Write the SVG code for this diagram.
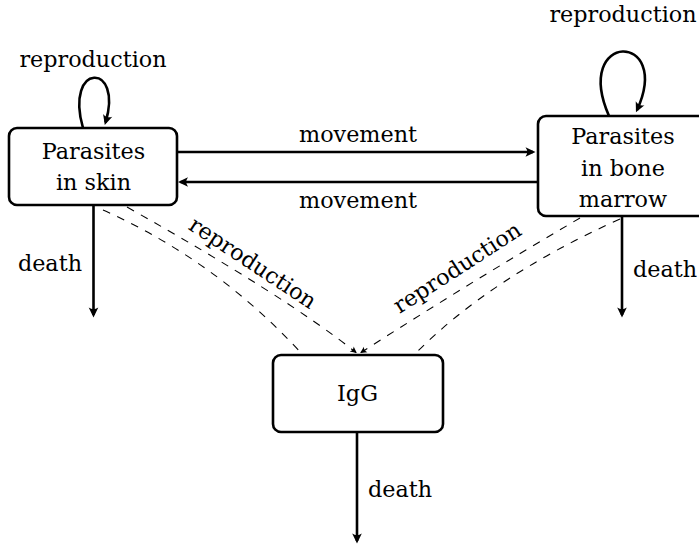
<svg xmlns="http://www.w3.org/2000/svg" width="699" height="549" viewBox="0 0 699 549">
<style>
text{font-family:'DejaVu Serif','Liberation Serif',serif;font-size:22.3px;fill:#000}
.box{fill:#fff;stroke:#000;stroke-width:2.6}
.solid{fill:none;stroke:#000;stroke-width:2.6}
.dash{fill:none;stroke:#000;stroke-width:1.05;stroke-dasharray:7.8 7.8}
.m{text-anchor:middle}
</style>
<defs>
<marker id="ah" markerUnits="userSpaceOnUse" viewBox="-10 -7 14 14" refX="0" refY="0" markerWidth="14" markerHeight="14" orient="auto" overflow="visible">
<path d="M2.5,0 L-7.5,-4.8 Q-4,0 -7.5,4.8 Z" fill="#000"/>
</marker>
<marker id="ahs" markerUnits="userSpaceOnUse" viewBox="-8 -5 10 10" refX="0" refY="0" markerWidth="10" markerHeight="10" orient="auto" overflow="visible">
<path d="M1,0 L-5.5,-3.2 Q-3.2,0 -5.5,3.2 Z" fill="#000"/>
</marker>
</defs>
<rect width="699" height="549" fill="#fff"/>
<g id="connectors">
<path class="solid" d="M83,128 C64,62 124,62 105.5,122.5" marker-end="url(#ah)"/>
<path class="solid" d="M609,116 C572,31 673,31 637,110" marker-end="url(#ah)"/>
<path class="solid" d="M177,152 L533,152" marker-end="url(#ah)"/>
<path class="solid" d="M538,182 L180.5,182" marker-end="url(#ah)"/>
<path class="solid" d="M93.5,205 L93.5,315" marker-end="url(#ah)"/>
<path class="solid" d="M622,216 L622,315" marker-end="url(#ah)"/>
<path class="solid" d="M357,432 L357,541" marker-end="url(#ah)"/>
<path class="dash" d="M127,207 Q285,296 356,352.5" marker-end="url(#ahs)"/>
<path class="dash" d="M103,210 Q217,261 302,354"/>
<path class="dash" d="M580,218 Q474,280 361,352.5" marker-end="url(#ahs)"/>
<path class="dash" d="M620,219 Q491,277 415,354"/>
<text class="m" x="93" y="67">reproduction</text>
<text class="m" x="623" y="22">reproduction</text>
<text class="m" x="358" y="141.5">movement</text>
<text class="m" x="358" y="208">movement</text>
<text x="82" y="271" text-anchor="end">death</text>
<text x="633" y="277">death</text>
<text x="368" y="497">death</text>
<text class="m" transform="translate(252,264) rotate(33.5)" y="6">reproduction</text>
<text class="m" transform="translate(458,269) rotate(-33)" y="6">reproduction</text>
</g>
<g id="skin">
<rect class="box" x="9" y="128" width="168" height="77" rx="8"/>
<text class="m" x="93.5" y="159">Parasites</text>
<text class="m" x="93.5" y="190">in skin</text>
</g>
<g id="marrow">
<rect class="box" x="538" y="116" width="168" height="100" rx="8"/>
<text class="m" x="623" y="144">Parasites</text>
<text class="m" x="623" y="176">in bone</text>
<text class="m" x="623" y="207">marrow</text>
</g>
<g id="igg">
<rect class="box" x="273" y="355" width="170" height="77" rx="8"/>
<text class="m" x="357.5" y="401">IgG</text>
</g>
</svg>
